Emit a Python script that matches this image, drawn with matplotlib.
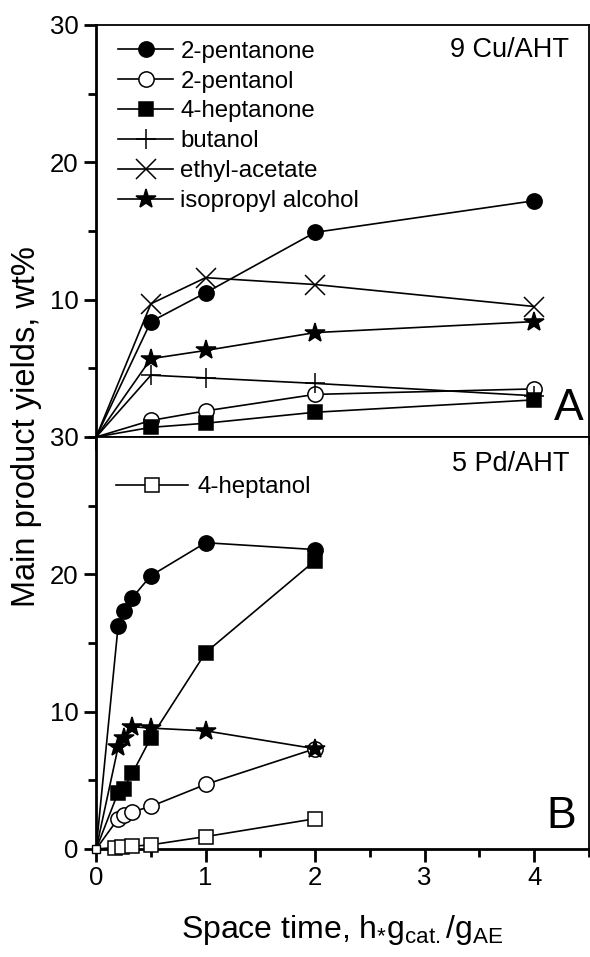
import matplotlib.pyplot as plt
from matplotlib.ticker import MultipleLocator

plt.rcParams['font.family'] = ['Liberation Sans', 'DejaVu Sans']
plt.rcParams['mathtext.default'] = 'regular'

# panel A: 9 Cu/AHT
xa = [0, 0.5, 1, 2, 4]
a_pentanone = [0, 8.4, 10.5, 14.9, 17.2]
a_pentanol = [0, 1.2, 1.9, 3.1, 3.5]
a_heptanone = [0, 0.7, 1.0, 1.8, 2.7]
a_butanol = [0, 4.5, 4.3, 3.9, 3.0]
a_ethylacetate = [0, 9.7, 11.6, 11.1, 9.5]
a_isopropyl = [0, 5.7, 6.3, 7.6, 8.4]

# panel B: 5 Pd/AHT
xb = [0, 0.2, 0.25, 0.33, 0.5, 1, 2]
b_pentanone = [0, 16.2, 17.3, 18.3, 19.9, 22.3, 21.8]
b_pentanol = [0, 2.2, 2.5, 2.7, 3.1, 4.7, 7.3]
b_heptanone = [0, 4.1, 4.4, 5.5, 8.1, 14.3, 21.0]
b_isopropyl = [0, 7.4, 8.1, 8.9, 8.8, 8.6, 7.3]
xb_heptanol = [0, 0.17, 0.24, 0.33, 0.5, 1, 2]
b_heptanol = [0, 0.1, 0.15, 0.2, 0.3, 0.9, 2.2]

fig = plt.figure(figsize=(5.9, 9.57), dpi=100)
axA = fig.add_axes([0.163, 0.5434, 0.835, 0.4305])
axB = fig.add_axes([0.163, 0.1129, 0.835, 0.4305])

lw = 1.2
ms = 11

def series(ax, x, y, marker, label, mfc='black', size=ms, every=None):
    ax.plot(x, y, color='black', lw=lw, marker=marker, ms=size, mfc=mfc,
            mec='black', mew=1.1, label=label,
            markevery=every if every is not None else list(range(1, len(x))),
            clip_on=False, zorder=3)

series(axA, xa, a_pentanone, 'o', '2-pentanone')
series(axA, xa, a_pentanol, 'o', '2-pentanol', mfc='white')
series(axA, xa, a_heptanone, 's', '4-heptanone', size=10)
series(axA, xa, a_butanol, '+', 'butanol', size=14)
series(axA, xa, a_ethylacetate, 'x', 'ethyl-acetate', size=14)
series(axA, xa, a_isopropyl, '*', 'isopropyl alcohol', size=15)

series(axB, xb, b_pentanone, 'o', '2-pentanone')
series(axB, xb, b_pentanol, 'o', '2-pentanol', mfc='white')
series(axB, xb, b_heptanone, 's', '4-heptanone', size=10)
series(axB, xb, b_isopropyl, '*', 'isopropyl alcohol', size=15)
series(axB, xb_heptanol, b_heptanol, 's', '4-heptanol', mfc='white', size=10)
# smaller open square at the origin
axB.plot(xb_heptanol[:1], b_heptanol[:1], ls='none', marker='s', ms=6,
         mfc='white', mec='black', mew=1.0, clip_on=False, zorder=4)

for ax in (axA, axB):
    ax.set_xlim(0, 4.5)
    ax.set_ylim(0, 30)
    ax.xaxis.set_major_locator(MultipleLocator(1))
    ax.xaxis.set_minor_locator(MultipleLocator(0.5))
    ax.yaxis.set_major_locator(MultipleLocator(10))
    ax.yaxis.set_minor_locator(MultipleLocator(5))
    ax.tick_params(which='both', direction='out', width=2, labelsize=18.5,
                   top=False, right=False)
    ax.tick_params(which='major', length=9)
    ax.tick_params(which='minor', length=6)
    ax.spines['left'].set_linewidth(2)
    ax.spines['bottom'].set_linewidth(2)
    ax.spines['top'].set_linewidth(1.3)
    ax.spines['right'].set_linewidth(1.3)

axA.tick_params(axis='x', labelbottom=False)
axA.set_yticks([10, 20, 30])
axB.set_yticks([0, 10, 20, 30])

hA, lA = axA.get_legend_handles_labels()
axA.legend(hA, lA, loc='upper left', bbox_to_anchor=(0.015, 0.997),
           frameon=False, fontsize=17.3, handlelength=2.3, handletextpad=0.3,
           labelspacing=0.33, borderaxespad=0.2)
hB, lB = axB.get_legend_handles_labels()
axB.legend([hB[-1]], [lB[-1]], loc='upper left', bbox_to_anchor=(0.01, 0.94),
           frameon=False, fontsize=17.3, handlelength=3.0, handletextpad=0.4,
           borderaxespad=0.2)

axA.text(0.96, 0.94, '9 Cu/AHT', transform=axA.transAxes, ha='right',
         va='center', fontsize=19.5)
axA.text(0.99, 0.04, 'A', transform=axA.transAxes, ha='right',
         va='baseline', fontsize=32)
axB.text(0.96, 0.935, '5 Pd/AHT', transform=axB.transAxes, ha='right',
         va='center', fontsize=19.5)
axB.text(0.975, 0.05, 'B', transform=axB.transAxes, ha='right',
         va='baseline', fontsize=32)

fig.text(0.045, 0.554, 'Main product yields, wt%', rotation=90,
         ha='center', va='center', fontsize=23.5)
axB.set_xlabel(r'Space time, h$_{*}$g$_{cat.}$/g$_{AE}$', fontsize=23,
               labelpad=16)

fig.savefig('out.png', dpi=100)
